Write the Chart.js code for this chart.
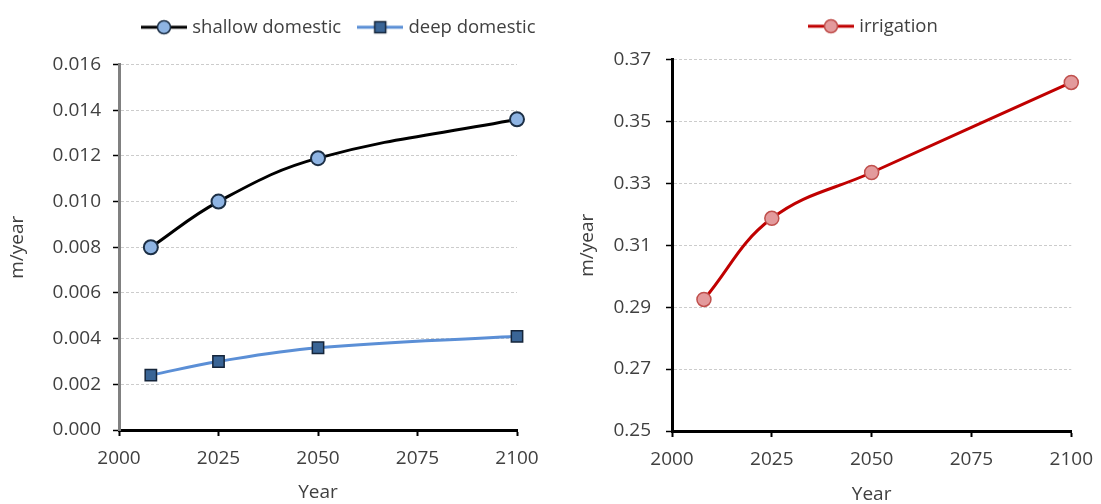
<!DOCTYPE html>
<html>
<head>
<meta charset="utf-8">
<script src="https://cdn.jsdelivr.net/npm/chart.js@4.4.0/dist/chart.umd.min.js"></script>
<style>
  body { margin: 0; background: #fff; overflow: hidden; }
  canvas { position: absolute; top: 0; }
  #left { left: 0; }
  #right { left: 555px; }
</style>
</head>
<body>
<canvas id="left" width="550" height="504"></canvas>
<canvas id="right" width="549" height="504"></canvas>
<script>
// values
var years = [2008, 2025, 2050, 2100];
var shallowDomestic = [0.0080, 0.0100, 0.0119, 0.0136];
var deepDomestic = [0.0024, 0.0030, 0.0036, 0.0041];
var irrigation = [0.2925, 0.3187, 0.3335, 0.3626];

var xTicks = [2000, 2025, 2050, 2075, 2100];
var leftTicks = [0, 0.002, 0.004, 0.006, 0.008, 0.010, 0.012, 0.014, 0.016];
var rightTicks = [0.25, 0.27, 0.29, 0.31, 0.33, 0.35, 0.37];

var FONT = "'Open Sans', sans-serif";
var TEXT = '#404040';

function points(xs, ys) {
  return xs.map(function (x, i) { return { x: x, y: ys[i] }; });
}

// little line+marker picture for the legend
function legendIcon(line, shape, fill, stroke) {
  var c = document.createElement('canvas');
  c.width = 46; c.height = 18;
  var g = c.getContext('2d');
  g.strokeStyle = line; g.lineWidth = 3;
  g.beginPath(); g.moveTo(0, 9); g.lineTo(46, 9); g.stroke();
  g.fillStyle = fill; g.strokeStyle = stroke; g.lineWidth = 1.5;
  g.beginPath();
  if (shape === 'circle') g.arc(23, 9, 6.5, 0, Math.PI * 2);
  else g.rect(17.5, 3.5, 11, 11);
  g.fill(); g.stroke();
  return c;
}

// moves the legend to where the picture has it
var placeLegend = {
  id: 'placeLegend',
  afterUpdate: function (chart, args, opts) {
    var lg = chart.legend;
    if (!lg || !lg.legendHitBoxes.length) return;
    var dx = opts.x - lg.legendHitBoxes[0].left;
    var dy = opts.top - lg.top;
    lg.left += dx; lg.right += dx;
    lg.top += dy; lg.bottom += dy;
  }
};

function makeOptions(cfg) {
  return {
    responsive: false,
    animation: false,
    devicePixelRatio: 1,
    layout: { padding: { left: 5, right: cfg.padRight, top: cfg.padTop, bottom: 0 } },
    plugins: {
      tooltip: { enabled: false },
      placeLegend: cfg.legendPos,
      legend: {
        position: 'top',
        labels: {
          usePointStyle: true,
          pointStyleWidth: 38,
          padding: 20,
          color: TEXT,
          font: { family: FONT, size: 18.5 },
          generateLabels: function (chart) {
            return chart.data.datasets.map(function (ds, i) {
              return {
                text: ds.label, pointStyle: cfg.icons[i], fontColor: TEXT,
                datasetIndex: i, hidden: false, lineWidth: 0,
                strokeStyle: 'transparent', fillStyle: 'transparent'
              };
            });
          }
        }
      }
    },
    scales: {
      x: {
        type: 'linear', min: 2000, max: 2100,
        afterBuildTicks: function (s) { s.ticks = xTicks.map(function (v) { return { value: v }; }); },
        afterFit: function (s) { s.height = cfg.xHeight; },
        ticks: { color: TEXT, font: { family: FONT, size: 19 }, padding: 11, maxRotation: 0, autoSkip: false,
          callback: function (v) { return String(v); } },
        grid: { drawOnChartArea: false, drawTicks: true, tickLength: 6, tickColor: '#000', tickWidth: 2 },
        border: { color: '#000', width: 3 },
        title: { display: true, text: 'Year', color: TEXT, font: { family: FONT, size: 19 }, padding: { top: 0, bottom: cfg.xTitlePad } }
      },
      y: {
        min: cfg.yMin, max: cfg.yMax,
        afterBuildTicks: function (s) { s.ticks = cfg.yTicks.map(function (v) { return { value: v }; }); },
        afterFit: function (s) { s.width = cfg.yWidth; },
        ticks: { color: TEXT, font: { family: FONT, size: 19 }, padding: cfg.yTickPad,
          callback: function (v) { return v.toFixed(cfg.digits); } },
        grid: { color: '#cccccc', lineWidth: 1, tickLength: 6, tickColor: '#000', tickWidth: 1.5 },
        border: { color: cfg.yAxisColor, width: 3, dash: [3, 2] },
        title: { display: true, text: 'm/year', color: TEXT, font: { family: FONT, size: 19 }, padding: { top: cfg.yTitlePad, bottom: 0 } }
      }
    }
  };
}

new Chart(document.getElementById('left'), {
  type: 'line',
  data: {
    datasets: [
      { label: 'shallow domestic', data: points(years, shallowDomestic), clip: false,
        borderColor: '#000', borderWidth: 3, tension: 0.4,
        pointStyle: 'circle', pointRadius: 7, pointBackgroundColor: '#8eb4e3',
        pointBorderColor: '#1c2f45', pointBorderWidth: 2 },
      { label: 'deep domestic', data: points(years, deepDomestic), clip: false,
        borderColor: '#5b8fd6', borderWidth: 3, tension: 0.4,
        pointStyle: 'rect', pointRadius: 8, pointBackgroundColor: '#3a6596',
        pointBorderColor: '#15253a', pointBorderWidth: 1.5 }
    ]
  },
  options: makeOptions({
    padRight: 33, padTop: 16, xHeight: 74, xTitlePad: 0, yWidth: 114, yTickPad: 12, yTitlePad: 1,
    yMin: 0, yMax: 0.016, yTicks: leftTicks, digits: 3, yAxisColor: '#808080',
    legendPos: { x: 145, top: -2 },
    icons: [legendIcon('#000', 'circle', '#8eb4e3', '#1c2f45'),
            legendIcon('#5b8fd6', 'rect', '#3a6596', '#15253a')]
  }),
  plugins: [placeLegend]
});

new Chart(document.getElementById('right'), {
  type: 'line',
  data: {
    datasets: [
      { label: 'irrigation', data: points(years, irrigation), clip: false,
        borderColor: '#c00000', borderWidth: 3, tension: 0.4,
        pointStyle: 'circle', pointRadius: 7, pointBackgroundColor: '#e39a9c',
        pointBorderColor: '#c0504d', pointBorderWidth: 1.5 }
    ]
  },
  options: makeOptions({
    padRight: 30, padTop: 11, xHeight: 73, xTitlePad: -2, yWidth: 112, yTickPad: 15, yTitlePad: 16,
    yMin: 0.25, yMax: 0.37, yTicks: rightTicks, digits: 2, yAxisColor: '#000',
    legendPos: { x: 257, top: -3 },
    icons: [legendIcon('#c00000', 'circle', '#e39a9c', '#c0504d')]
  }),
  plugins: [placeLegend]
});
</script>
</body>
</html>
